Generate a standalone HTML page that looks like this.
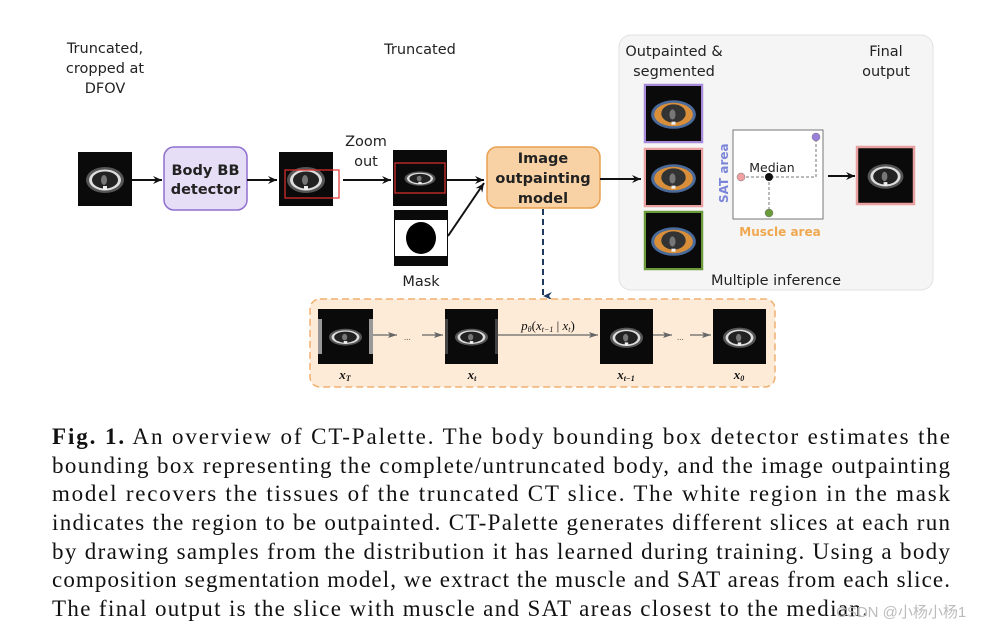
<!DOCTYPE html>
<html><head><meta charset="utf-8"><style>
html,body{margin:0;padding:0;background:#fff;}
svg{display:block;}
.s{font-family:"DejaVu Sans","Liberation Sans",sans-serif;font-size:14.5px;fill:#222;}
.b{font-weight:bold;}
.c{font-family:"Liberation Serif",serif;font-size:23px;fill:#111;}
.m{font-family:"Liberation Serif",serif;font-style:italic;font-size:12px;fill:#111;}
</style></head><body>
<svg width="999" height="631" viewBox="0 0 999 631" xmlns="http://www.w3.org/2000/svg">
<defs>
<symbol id="ct" viewBox="0 0 54 54" preserveAspectRatio="none">
<rect width="54" height="54" fill="#0a0a0a"/>
<ellipse cx="27" cy="28" rx="19" ry="13" fill="#555"/>
<ellipse cx="27" cy="28" rx="16" ry="10.5" fill="#ddd"/>
<ellipse cx="27" cy="28" rx="13" ry="8.5" fill="#222"/>
<ellipse cx="26" cy="28" rx="3" ry="5" fill="#777"/>
<rect x="25" y="34" width="4" height="4" fill="#eee"/>
</symbol>
<symbol id="seg" viewBox="0 0 54 54">
<rect width="54" height="54" fill="#0a0a0a"/>
<ellipse cx="27" cy="28" rx="22" ry="14" fill="#4a6a9a"/>
<ellipse cx="27" cy="28" rx="19" ry="11.5" fill="#d98f3a"/>
<ellipse cx="27" cy="27" rx="12" ry="9" fill="#333"/>
<ellipse cx="26" cy="28" rx="3" ry="5" fill="#777"/>
<rect x="25" y="35" width="4" height="3" fill="#eee"/>
</symbol>
<marker id="ah" markerWidth="10" markerHeight="10" refX="9" refY="5" orient="auto" markerUnits="userSpaceOnUse"><path d="M0,1 L9,5 L0,9 L3,5z" fill="#111"/></marker>
<marker id="ag" markerWidth="10" markerHeight="10" refX="9" refY="5" orient="auto" markerUnits="userSpaceOnUse"><path d="M0,2 L9,5 L0,8 L2,5z" fill="#666"/></marker>
<marker id="an" markerWidth="10" markerHeight="10" refX="5" refY="9" orient="auto" markerUnits="userSpaceOnUse"><path d="M1,0 L5,9 L9,0 L5,3z" fill="#1f3a5f"/></marker>
</defs>

<rect x="619" y="35" width="314" height="255" rx="12" fill="#f5f5f5" stroke="#e2e2e2"/>

<text class="s" x="105" y="53" text-anchor="middle">Truncated,</text>
<text class="s" x="105" y="73" text-anchor="middle">cropped at</text>
<text class="s" x="105" y="93" text-anchor="middle">DFOV</text>
<text class="s" x="420" y="54" text-anchor="middle">Truncated</text>
<text class="s" x="674" y="56" text-anchor="middle">Outpainted &amp;</text>
<text class="s" x="674" y="76" text-anchor="middle">segmented</text>
<text class="s" x="886" y="56" text-anchor="middle">Final</text>
<text class="s" x="886" y="76" text-anchor="middle">output</text>

<use href="#ct" x="78" y="152" width="54" height="54"/>
<line x1="132" y1="180" x2="162" y2="180" stroke="#111" stroke-width="2" marker-end="url(#ah)"/>
<rect x="164" y="147" width="83" height="63" rx="10" fill="#e6def6" stroke="#8f6fcf" stroke-width="1.5"/>
<text class="s b" x="205.5" y="175" text-anchor="middle">Body BB</text>
<text class="s b" x="205.5" y="194" text-anchor="middle">detector</text>
<line x1="247" y1="180" x2="277" y2="180" stroke="#111" stroke-width="2" marker-end="url(#ah)"/>
<use href="#ct" x="279" y="152" width="54" height="54"/>
<rect x="285" y="170" width="54" height="28" fill="none" stroke="#e03030" stroke-width="1.2"/>
<text class="s" x="366" y="146" text-anchor="middle">Zoom</text>
<text class="s" x="366" y="166" text-anchor="middle">out</text>
<line x1="343" y1="180" x2="391" y2="180" stroke="#111" stroke-width="2" marker-end="url(#ah)"/>
<rect x="393" y="150" width="54" height="56" fill="#0a0a0a"/>
<use href="#ct" x="398" y="163" width="44" height="30"/>
<rect x="395" y="163" width="50" height="30" fill="none" stroke="#e03030" stroke-width="1.2"/>
<rect x="394" y="210" width="54" height="56" fill="#0a0a0a"/>
<rect x="395" y="220" width="52" height="36" fill="#fff"/>
<ellipse cx="421" cy="238" rx="15" ry="16" fill="#000"/>
<text class="s" x="421" y="286" text-anchor="middle">Mask</text>
<line x1="447" y1="180" x2="484" y2="180" stroke="#111" stroke-width="2" marker-end="url(#ah)"/>
<line x1="448" y1="236" x2="484" y2="183" stroke="#111" stroke-width="2" marker-end="url(#ah)"/>

<rect x="487" y="147" width="113" height="61" rx="10" fill="#f8d2a4" stroke="#e8a050" stroke-width="1.5"/>
<text class="s b" x="543" y="163" text-anchor="middle">Image</text>
<text class="s b" x="543" y="183" text-anchor="middle">outpainting</text>
<text class="s b" x="543" y="203" text-anchor="middle">model</text>
<line x1="600" y1="179" x2="641" y2="179" stroke="#111" stroke-width="2" marker-end="url(#ah)"/>
<line x1="543" y1="209" x2="543" y2="296" stroke="#1f3a5f" stroke-width="2" stroke-dasharray="6,4" marker-end="url(#an)"/>

<rect x="645" y="85" width="57" height="57" fill="#0a0a0a" stroke="#a78ad8" stroke-width="2.5"/>
<use href="#seg" x="646" y="86" width="55" height="55"/>
<rect x="645" y="149" width="57" height="57" fill="#0a0a0a" stroke="#e8a0a0" stroke-width="2.5"/>
<use href="#seg" x="646" y="150" width="55" height="55"/>
<rect x="645" y="212" width="57" height="57" fill="#0a0a0a" stroke="#6a9a3a" stroke-width="2.5"/>
<use href="#seg" x="646" y="213" width="55" height="55"/>

<rect x="733" y="130" width="90" height="89" fill="#fff" stroke="#777" stroke-width="1"/>
<text transform="translate(728,203) rotate(-90)" style="font-family:'DejaVu Sans',sans-serif;font-size:12px;fill:#7b86d8;font-weight:bold">SAT area</text>
<text x="780" y="236" text-anchor="middle" style="font-family:'DejaVu Sans',sans-serif;font-size:12px;fill:#f0a850;font-weight:bold">Muscle area</text>
<text class="s" x="772" y="172" text-anchor="middle" style="font-size:12.5px">Median</text>
<path d="M741,177 L816,177 L816,138 M769,177 L769,212" stroke="#777" stroke-dasharray="3,2" fill="none"/>
<circle cx="741" cy="177" r="4" fill="#f0a0a0" stroke="#777" stroke-width="0.5"/>
<circle cx="769" cy="177" r="4" fill="#111"/>
<circle cx="816" cy="137" r="4" fill="#9a80d8" stroke="#777" stroke-width="0.5"/>
<circle cx="769" cy="213" r="4" fill="#6a9a3a" stroke="#777" stroke-width="0.5"/>
<line x1="828" y1="176" x2="855" y2="176" stroke="#111" stroke-width="2" marker-end="url(#ah)"/>
<rect x="857" y="147" width="57" height="57" fill="#0a0a0a" stroke="#e8a0a0" stroke-width="2.5"/>
<use href="#ct" x="860" y="150" width="51" height="51"/>
<text class="s" x="776" y="285" text-anchor="middle">Multiple inference</text>

<rect x="310" y="299" width="465" height="88" rx="10" fill="#fdebd8" stroke="#f0b070" stroke-width="1.5" stroke-dasharray="7,4"/>
<rect x="318" y="309" width="55" height="55" fill="#0a0a0a"/>
<rect x="318" y="319" width="55" height="35" fill="#999"/>
<use href="#ct" x="322" y="319" width="47" height="35"/>
<rect x="445" y="309" width="53" height="55" fill="#0a0a0a"/>
<rect x="445" y="319" width="53" height="35" fill="#444"/>
<use href="#ct" x="448" y="319" width="47" height="35"/>
<rect x="600" y="309" width="53" height="55" fill="#0a0a0a"/>
<use href="#ct" x="603" y="316" width="47" height="42"/>
<rect x="713" y="309" width="53" height="55" fill="#0a0a0a"/>
<use href="#ct" x="716" y="316" width="47" height="42"/>
<line x1="373" y1="335" x2="397" y2="335" stroke="#666" stroke-width="1.2" marker-end="url(#ag)"/>
<text x="404" y="340" style="font-size:9px;fill:#666;font-family:'Liberation Serif',serif">...</text>
<line x1="422" y1="335" x2="443" y2="335" stroke="#666" stroke-width="1.2" marker-end="url(#ag)"/>
<line x1="498" y1="335" x2="598" y2="335" stroke="#666" stroke-width="1.2" marker-end="url(#ag)"/>
<text class="m" x="548" y="330" text-anchor="middle" style="font-size:13px">p<tspan font-size="8" dy="2">θ</tspan><tspan dy="-2" font-style="normal">(</tspan>x<tspan font-size="8" dy="2">t−1</tspan><tspan dy="-2" font-style="normal"> | </tspan>x<tspan font-size="8" dy="2">t</tspan><tspan dy="-2" font-style="normal">)</tspan></text>
<line x1="653" y1="335" x2="672" y2="335" stroke="#666" stroke-width="1.2" marker-end="url(#ag)"/>
<text x="677" y="340" style="font-size:9px;fill:#666;font-family:'Liberation Serif',serif">...</text>
<line x1="690" y1="335" x2="711" y2="335" stroke="#666" stroke-width="1.2" marker-end="url(#ag)"/>
<text class="m" x="345" y="379" text-anchor="middle" style="font-weight:bold;font-size:13px">x<tspan font-size="8" dy="2">T</tspan></text>
<text class="m" x="472" y="379" text-anchor="middle" style="font-weight:bold;font-size:13px">x<tspan font-size="8" dy="2">t</tspan></text>
<text class="m" x="626" y="379" text-anchor="middle" style="font-weight:bold;font-size:13px">x<tspan font-size="8" dy="2">t−1</tspan></text>
<text class="m" x="739" y="379" text-anchor="middle" style="font-weight:bold;font-size:13px">x<tspan font-size="8" dy="2">0</tspan></text>

<text class="c" x="52" y="444" textLength="898" lengthAdjust="spacing"><tspan font-weight="bold">Fig. 1.</tspan> An overview of CT-Palette. The body bounding box detector estimates the</text>
<text class="c" x="52" y="473" textLength="898" lengthAdjust="spacing">bounding box representing the complete/untruncated body, and the image outpainting</text>
<text class="c" x="52" y="501" textLength="898" lengthAdjust="spacing">model recovers the tissues of the truncated CT slice. The white region in the mask</text>
<text class="c" x="52" y="530" textLength="898" lengthAdjust="spacing">indicates the region to be outpainted. CT-Palette generates different slices at each run</text>
<text class="c" x="52" y="559" textLength="898" lengthAdjust="spacing">by drawing samples from the distribution it has learned during training. Using a body</text>
<text class="c" x="52" y="587" textLength="898" lengthAdjust="spacing">composition segmentation model, we extract the muscle and SAT areas from each slice.</text>
<text class="c" x="52" y="616" textLength="816" lengthAdjust="spacing">The final output is the slice with muscle and SAT areas closest to the median.</text>
<text x="836" y="617" style="font-family:'Liberation Sans','Noto Sans CJK SC',sans-serif;font-size:15px;fill:#bbb">CSDN @小杨小杨1</text>
</svg>
</body></html>
